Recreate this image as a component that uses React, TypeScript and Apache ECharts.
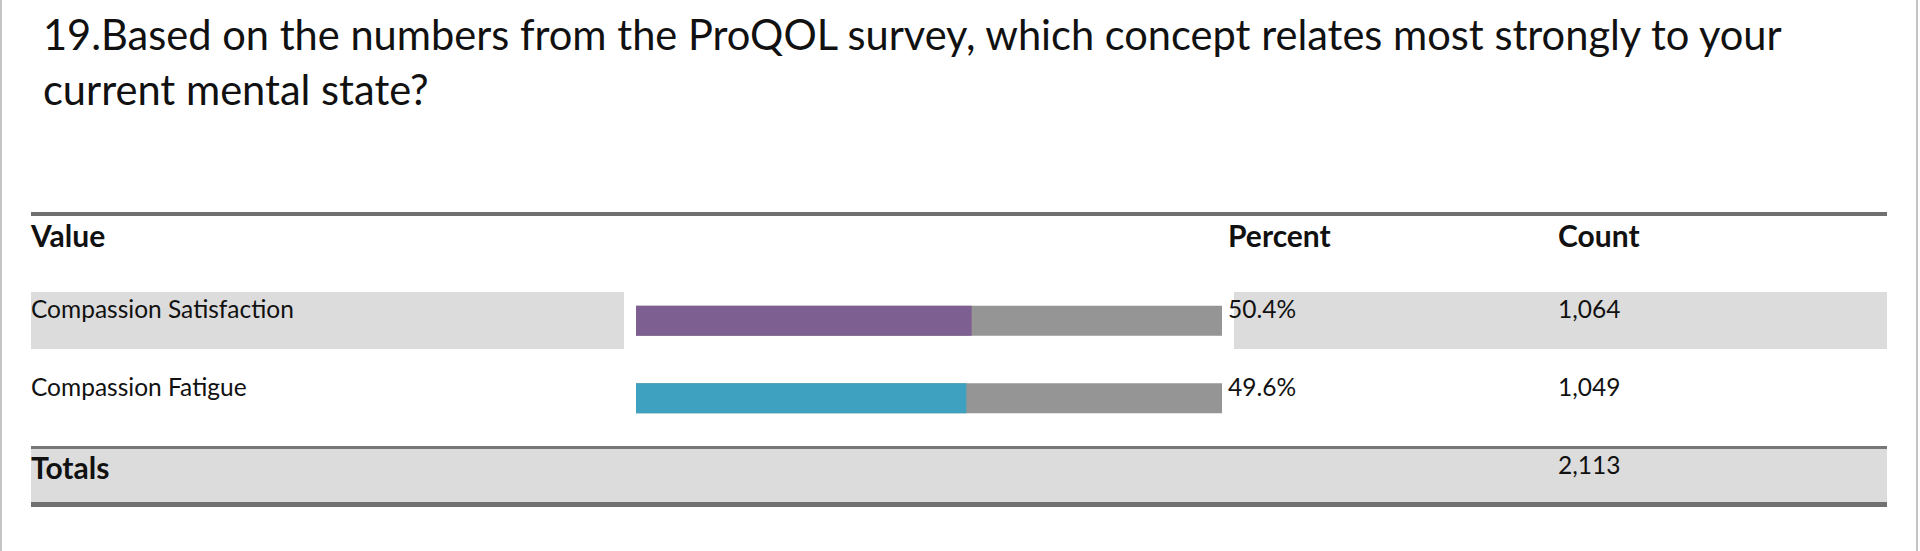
import React, { useEffect, useRef } from "react";
import * as echarts from "echarts";

const titleLines = [
  "19.Based on the numbers from the ProQOL survey, which concept relates most strongly to your",
  "current mental state?",
];
const headers = ["Value", "Percent", "Count"];
const categories = ["Compassion Satisfaction", "Compassion Fatigue"];
const percents = [50.4, 49.6];
const counts = [1064, 1049];
const totalLabel = "Totals";
const totalCount = 2113;
const barColors = ["#7e5f92", "#3ea1bf"];
const barAxisMax = 88;

const FONT = "Lato, 'Noto Sans', sans-serif";

export default function App() {
  const ref = useRef<HTMLDivElement>(null);
  useEffect(() => {
    if (!ref.current) return;
    const chart = echarts.init(ref.current, undefined, { renderer: "svg" });

    const L = 31;
    const R = 1887;
    const colX = [31, 1228, 1558];
    const rowMid = [308, 386];
    const fmt = (n: number) => n.toLocaleString("en-US");

    const txt = (x: number, y: number, text: string, size: number, bold = false) => ({
      type: "text",
      x,
      y,
      silent: true,
      style: {
        text,
        fill: "#111",
        font: `${bold ? "bold " : ""}${size}px ${FONT}`,
        align: "left",
        verticalAlign: "middle",
      },
    });
    const rect = (x: number, y: number, w: number, h: number, fill: string) => ({
      type: "rect",
      shape: { x, y, width: w, height: h },
      style: { fill },
      silent: true,
    });

    const graphics: any[] = [];
    // panel borders
    graphics.push({ type: "line", shape: { x1: 1, y1: 0, x2: 1, y2: 551 }, style: { stroke: "#c4c4c4", lineWidth: 2 } });
    graphics.push({ type: "line", shape: { x1: 1917, y1: 0, x2: 1917, y2: 551 }, style: { stroke: "#c4c4c4", lineWidth: 2 } });

    // title
    titleLines.forEach((t, i) => graphics.push(txt(43, 34 + i * 55, t, 41.6)));

    // header
    graphics.push(rect(L, 212, R - L, 4, "#707070"));
    headers.forEach((h, i) => graphics.push(txt(colX[i], 235, h, 30, true)));

    // row bands (odd rows shaded)
    categories.forEach((c, i) => {
      if (i % 2 === 0) {
        graphics.push(rect(L, rowMid[i] - 16, 624 - L, 57, "#dcdcdc"));
        graphics.push(rect(1234, rowMid[i] - 16, R - 1234, 57, "#dcdcdc"));
      }
    });
    categories.forEach((c, i) => {
      graphics.push(txt(colX[0], rowMid[i], c, 24.5));
      graphics.push(txt(colX[1], rowMid[i], `${percents[i].toFixed(1)}%`, 24.5));
      graphics.push(txt(colX[2], rowMid[i], fmt(counts[i]), 24.5));
    });

    // totals
    graphics.push(rect(L, 449, R - L, 53, "#dcdcdc"));
    graphics.push(rect(L, 446, R - L, 3, "#777777"));
    graphics.push(rect(L, 502, R - L, 5, "#707070"));
    graphics.push(txt(colX[0], 467, totalLabel, 30, true));
    graphics.push(txt(colX[2], 464, fmt(totalCount), 24.5));

    chart.setOption({
      animation: false,
      backgroundColor: "#ffffff",
      grid: { left: 636, top: 282, width: 586, height: 155, containLabel: false },
      xAxis: { type: "value", min: 0, max: barAxisMax, show: false },
      yAxis: { type: "category", data: categories, inverse: true, show: false },
      series: [
        {
          type: "bar",
          barWidth: 30,
          showBackground: true,
          backgroundStyle: { color: "#959595" },
          data: percents.map((v, i) => ({ value: v, itemStyle: { color: barColors[i] } })),
          silent: true,
        },
      ],
      graphic: graphics,
    });
    return () => chart.dispose();
  }, []);
  return (
    <div
      ref={ref}
      style={{ position: "fixed", left: 0, top: 0, width: 1920, height: 551 }}
    />
  );
}
